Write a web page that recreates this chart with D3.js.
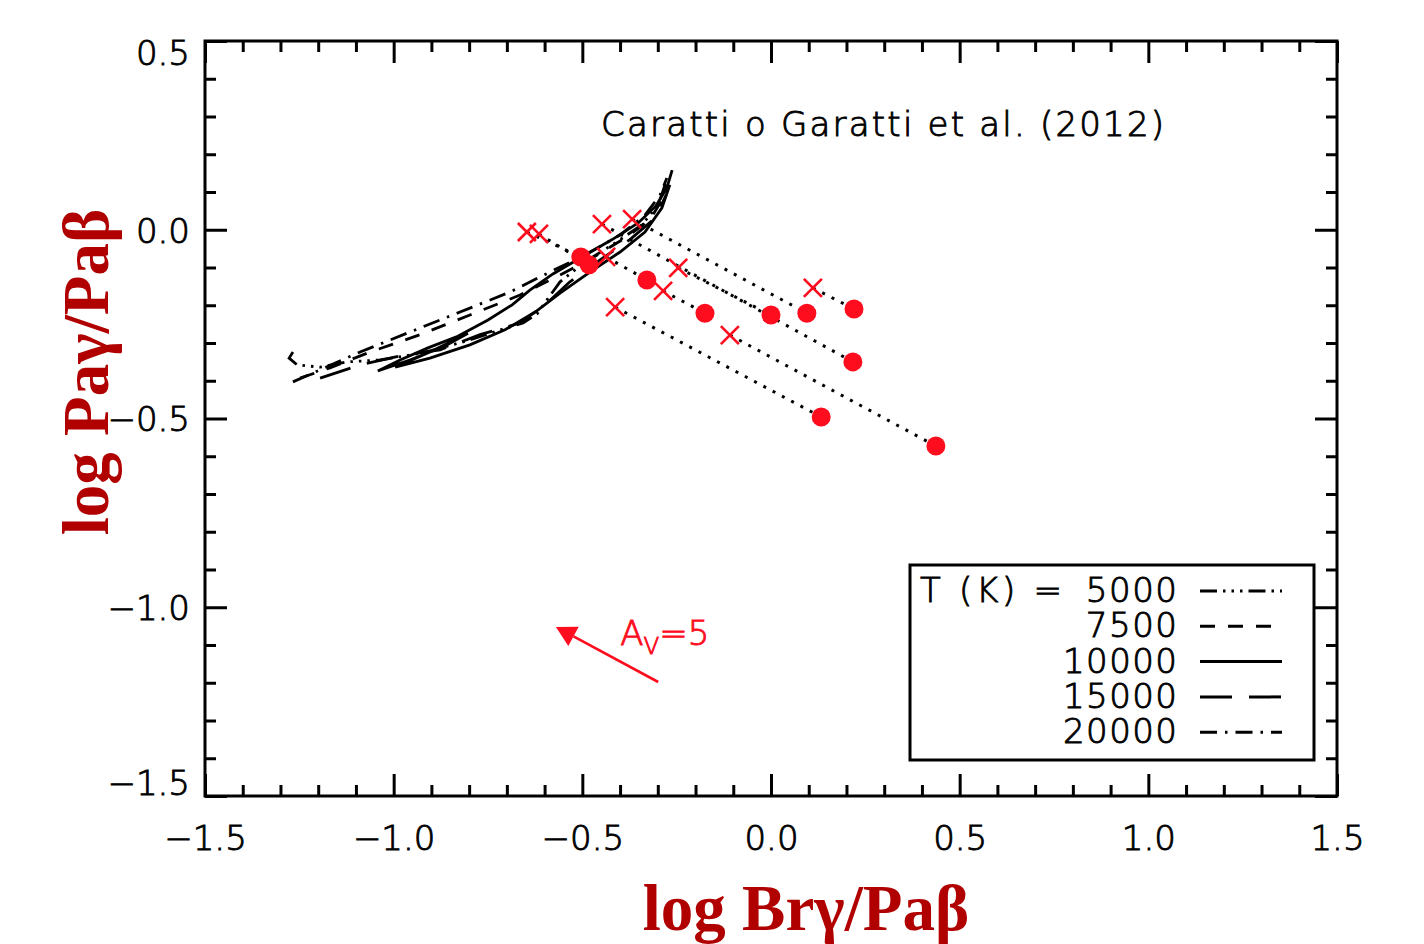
<!DOCTYPE html>
<html>
<head>
<meta charset="utf-8">
<script src="https://cdn.jsdelivr.net/npm/d3@7"></script>
<style>
  body { margin: 0; background: #fff; }
  svg { display: block; }
  .tick text { font-family: "DejaVu Sans", sans-serif; font-weight: 300; font-size: 34px; fill: #000; stroke: #000; stroke-width: 0.9px; }
  .lbl { font-family: "DejaVu Sans", sans-serif; font-weight: 300; stroke-width: 0.9px; }
</style>
</head>
<body>
<div id="chart"></div>
<script>
// observed line ratios: start (cross) and dereddened end (circle), paired by index
const startX = [-0.368, 0.111, -0.448, -0.246, -0.413, -0.109, -0.437, -0.286, -0.647, -0.615];
const startY = [0.028, -0.154, 0.015, -0.101, -0.205, -0.279, -0.072, -0.162, -0.006, -0.011];
const endX = [0.095, 0.220, 0.217, 0.000, 0.133, 0.437, -0.329, -0.175, -0.504, -0.482];
const endY = [-0.221, -0.210, -0.350, -0.226, -0.496, -0.573, -0.133, -0.221, -0.072, -0.093];

// model curves (one per temperature)
const temps = ['5000', '7500', '10000', '15000', '20000'];
const model5000 = [[-1.267,-0.324],[-1.277,-0.340],[-1.256,-0.358],[-1.195,-0.364],[-1.124,-0.350],[-1.036,-0.345],[-0.938,-0.329],[-0.885,-0.316],[-0.798,-0.292],[-0.726,-0.268],[-0.657,-0.247],[-0.620,-0.223],[-0.594,-0.186],[-0.559,-0.138],[-0.493,-0.085],[-0.413,-0.035],[-0.342,0.013],[-0.299,0.066],[-0.278,0.127]];
const model7500 = [[-1.248,-0.393],[-1.169,-0.366],[-1.063,-0.324],[-0.930,-0.278],[-0.798,-0.226],[-0.665,-0.173],[-0.559,-0.120],[-0.466,-0.070],[-0.387,-0.022],[-0.321,0.026],[-0.289,0.079],[-0.281,0.119]];
const model10000 = [[-0.262,0.158],[-0.276,0.111],[-0.305,0.063],[-0.352,0.018],[-0.421,-0.026],[-0.501,-0.072],[-0.578,-0.117],[-0.639,-0.160],[-0.686,-0.199],[-0.750,-0.239],[-0.830,-0.282],[-0.909,-0.313],[-0.983,-0.345],[-1.042,-0.374],[-0.957,-0.345],[-0.864,-0.308],[-0.803,-0.274],[-0.904,-0.324],[-0.996,-0.364],[-0.904,-0.340],[-0.798,-0.305],[-0.705,-0.265],[-0.625,-0.218],[-0.559,-0.168],[-0.480,-0.112],[-0.400,-0.059],[-0.334,-0.006],[-0.289,0.058],[-0.268,0.119]];
const model15000 = [[-1.195,-0.393],[-1.089,-0.358],[-0.983,-0.334],[-0.877,-0.318],[-0.771,-0.278],[-0.665,-0.247],[-0.599,-0.199],[-0.533,-0.138],[-0.453,-0.080],[-0.374,-0.026],[-0.307,0.031],[-0.278,0.092]];
const model20000 = [[-1.267,-0.403],[-1.195,-0.371],[-1.089,-0.324],[-0.957,-0.271],[-0.824,-0.218],[-0.692,-0.165],[-0.586,-0.112],[-0.493,-0.067],[-0.400,-0.014],[-0.334,0.039],[-0.294,0.092],[-0.276,0.137]];

// extinction vector A_V = 5 (tail, head)
const avTail = [-0.299, -1.198];
const avHead = [-0.570, -1.052];

const xMajor = [-1.5, -1.0, -0.5, 0.0, 0.5, 1.0, 1.5];
const yMajor = [-1.5, -1.0, -0.5, 0.0, 0.5];
const xMinor = d3.range(-14, 15).map(d => d / 10).filter(d => Math.abs(d * 2 - Math.round(d * 2)) > 1e-6);
const yMinor = d3.range(-14, 5).map(d => d / 10).filter(d => Math.abs(d * 2 - Math.round(d * 2)) > 1e-6);

const width = 1424, height = 944;
const margin = { top: 41, right: 87, bottom: 148, left: 205 };
const red = '#fe0d1e';
const dashes = {
  '5000': '17,6,2.5,6,2.5,6,2.5,6',
  '7500': '15,13',
  '10000': null,
  '15000': '32,17',
  '20000': '17,8,2.5,8'
};
const models = { '5000': model5000, '7500': model7500, '10000': model10000, '15000': model15000, '20000': model20000 };

const svg = d3.select('#chart').append('svg').attr('width', width).attr('height', height);

const x = d3.scaleLinear().domain([-1.5, 1.5]).range([margin.left, width - margin.right]);
const y = d3.scaleLinear().domain([-1.5, 0.5]).range([height - margin.bottom, margin.top]);
const fmt = d => d3.format('.1f')(d).replace('-', '\u2212');

// axes, ticks pointing inward
function styleAxis(g) {
  g.select('.domain').remove();
  g.selectAll('.tick line').attr('stroke', '#000').attr('stroke-width', 3);
}
svg.append('g').attr('transform', `translate(0,${y(-1.5)})`)
  .call(d3.axisBottom(x).tickValues(xMajor).tickSize(-22).tickPadding(30).tickFormat(fmt)).call(styleAxis);
svg.append('g').attr('transform', `translate(0,${y(-1.5)})`)
  .call(d3.axisBottom(x).tickValues(xMinor).tickSize(-11).tickFormat('')).call(styleAxis);
svg.append('g').attr('transform', `translate(0,${y(0.5)})`)
  .call(d3.axisTop(x).tickValues(xMajor).tickSize(-22).tickFormat('')).call(styleAxis);
svg.append('g').attr('transform', `translate(0,${y(0.5)})`)
  .call(d3.axisTop(x).tickValues(xMinor).tickSize(-11).tickFormat('')).call(styleAxis);
const yAxis = svg.append('g').attr('transform', `translate(${x(-1.5)},0)`)
  .call(d3.axisLeft(y).tickValues(yMajor).tickSize(-22).tickPadding(15).tickFormat(fmt)).call(styleAxis);
svg.append('g').attr('transform', `translate(${x(-1.5)},0)`)
  .call(d3.axisLeft(y).tickValues(yMinor).tickSize(-11).tickFormat('')).call(styleAxis);
svg.append('g').attr('transform', `translate(${x(1.5)},0)`)
  .call(d3.axisRight(y).tickValues(yMajor).tickSize(-22).tickFormat('')).call(styleAxis);
svg.append('g').attr('transform', `translate(${x(1.5)},0)`)
  .call(d3.axisRight(y).tickValues(yMinor).tickSize(-11).tickFormat('')).call(styleAxis);

// end labels sit inside the frame
yAxis.selectAll('.tick text').attr('dy', d => d === 0.5 ? '0.7em' : d === -1.5 ? '-0.05em' : '0.36em');

svg.append('rect')
  .attr('x', x(-1.5)).attr('y', y(0.5))
  .attr('width', x(1.5) - x(-1.5)).attr('height', y(-1.5) - y(0.5))
  .attr('fill', 'none').attr('stroke', '#000').attr('stroke-width', 3);

// model curves
const line = d3.line().x(d => x(d[0])).y(d => y(d[1]));
temps.forEach(t => {
  svg.append('path').datum(models[t])
    .attr('d', line)
    .attr('fill', 'none')
    .attr('stroke', '#000')
    .attr('stroke-width', 2.8)
    .attr('stroke-dasharray', dashes[t]);
});

// dereddening tracks
const pairs = startX.map((d, i) => ({ x0: d, y0: startY[i], x1: endX[i], y1: endY[i] }));
svg.selectAll('.track').data(pairs).enter().append('line')
  .attr('class', 'track')
  .attr('x1', d => x(d.x0)).attr('y1', d => y(d.y0))
  .attr('x2', d => x(d.x1)).attr('y2', d => y(d.y1))
  .attr('stroke', '#000').attr('stroke-width', 3)
  .attr('stroke-dasharray', '3,7.5');

// crosses
const cs = 9;
const crosses = svg.selectAll('.cross').data(pairs).enter().append('g').attr('class', 'cross')
  .attr('transform', d => `translate(${x(d.x0)},${y(d.y0)})`);
crosses.append('line').attr('x1', -cs).attr('y1', -cs).attr('x2', cs).attr('y2', cs);
crosses.append('line').attr('x1', -cs).attr('y1', cs).attr('x2', cs).attr('y2', -cs);
crosses.selectAll('line').attr('stroke', red).attr('stroke-width', 2.6);

// circles
svg.selectAll('.dot').data(pairs).enter().append('circle')
  .attr('class', 'dot')
  .attr('cx', d => x(d.x1)).attr('cy', d => y(d.y1))
  .attr('r', 9.5).attr('fill', red);

// A_V arrow
const tx = x(avTail[0]), ty = y(avTail[1]), hx = x(avHead[0]), hy = y(avHead[1]);
const len = Math.hypot(hx - tx, hy - ty), ux = (hx - tx) / len, uy = (hy - ty) / len;
const bx = hx - ux * 20, by = hy - uy * 20;
svg.append('line').attr('x1', tx).attr('y1', ty).attr('x2', bx).attr('y2', by)
  .attr('stroke', red).attr('stroke-width', 2.6);
svg.append('path')
  .attr('d', `M${hx},${hy}L${bx - uy * 11},${by + ux * 11}L${bx + uy * 11},${by - ux * 11}Z`)
  .attr('fill', red);
const avText = svg.append('text').attr('class', 'lbl')
  .attr('x', x(avTail[0]) - 38).attr('y', y(avHead[1]) + 18)
  .attr('font-size', 34).attr('fill', red).attr('stroke', red);
avText.append('tspan').text('A');
avText.append('tspan').attr('font-size', 23).attr('dy', 9).text('V');
avText.append('tspan').attr('dy', -9).text('=5');

// reference note
svg.append('text').attr('class', 'lbl')
  .attr('x', 601).attr('y', 136)
  .attr('font-size', 34).attr('stroke', '#000')
  .attr('textLength', 563).attr('lengthAdjust', 'spacing')
  .text('Caratti o Garatti et al. (2012)');

// legend
const lg = svg.append('g').attr('transform', 'translate(910,565)');
lg.append('rect').attr('width', 404).attr('height', 195)
  .attr('fill', '#fff').attr('stroke', '#000').attr('stroke-width', 3);
lg.append('text').attr('class', 'lbl').attr('x', 10).attr('y', 37)
  .attr('font-size', 34).attr('stroke', '#000')
  .attr('textLength', 142).attr('lengthAdjust', 'spacing')
  .text('T (K) =');
temps.forEach((t, i) => {
  lg.append('text').attr('class', 'lbl').attr('x', 267).attr('y', 37 + i * 35.3)
    .attr('text-anchor', 'end')
    .attr('font-size', 34).attr('stroke', '#000')
    .attr('textLength', t.length * 22.8).attr('lengthAdjust', 'spacing')
    .text(t);
  lg.append('line').attr('x1', 290).attr('x2', 372)
    .attr('y1', 26 + i * 35.3).attr('y2', 26 + i * 35.3)
    .attr('stroke', '#000').attr('stroke-width', 3)
    .attr('stroke-dasharray', dashes[t]);
});

// axis titles
svg.append('text')
  .attr('x', 806).attr('y', 930)
  .attr('text-anchor', 'middle')
  .attr('font-family', '"Liberation Serif", "Times New Roman", serif').attr('font-weight', 'bold')
  .attr('font-size', 65).attr('fill', '#b00000')
  .text('log Br\u03b3/Pa\u03b2');
svg.append('text')
  .attr('transform', 'translate(108,372) rotate(-90)')
  .attr('text-anchor', 'middle')
  .attr('font-family', '"Liberation Serif", "Times New Roman", serif').attr('font-weight', 'bold')
  .attr('font-size', 65).attr('fill', '#b00000')
  .text('log Pa\u03b3/Pa\u03b2');
</script>
</body>
</html>
